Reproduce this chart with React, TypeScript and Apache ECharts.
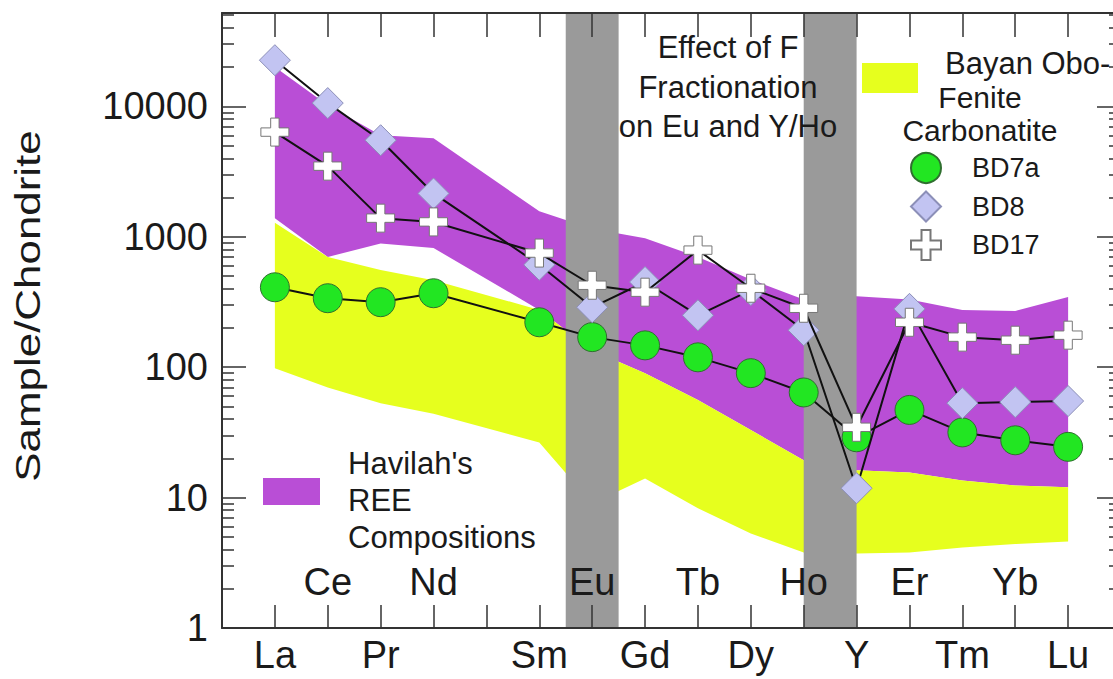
import React, { useEffect, useRef } from "react";
import * as echarts from "echarts";

// ---------- data ----------
const ELEMENTS = ["La", "Ce", "Pr", "Nd", "Pm", "Sm", "Eu", "Gd", "Tb", "Dy", "Ho", "Y", "Er", "Tm", "Yb", "Lu"];
const BOTTOM_LABEL_IDX = [0, 2, 5, 7, 9, 11, 13, 15];
const INNER_LABEL_IDX = [1, 3, 6, 8, 10, 12, 14];
const TICK_IDX = ELEMENTS.map((_, i) => i);

const BD7A = [410, 338, 315, 369, null, 221, 170, 147, 119, 90, 64, 29, 47, 31.6, 27.5, 24.5];
const BD8 = [22600, 10600, 5500, 2150, null, 610, 288, 450, 250, 390, 192, 11.8, 280, 53, 54, 55];
const BD17 = [6350, 3480, 1390, 1300, null, 750, 425, 376, 790, 403, 283, 34.6, 221, 170, 161, 176];

const HAVILAH_UPPER = [20000, 10200, 6000, 5700, null, 1570, 1150, 975, 700, 470, 330, 350, 330, 275, 270, 345];
const HAVILAH_LOWER = [1390, 700, 890, 820, null, 275, 135, 90, 56, 33, 19.3, 16.2, 15.6, 13.5, 12.4, 12];
const BAYAN_UPPER = [1280, 700, 555, 465, null, 275, 135, 90, 56, 33, 19.3, 16.2, 15.6, 13.5, 12.4, 12];
const BAYAN_LOWER = [98, 70, 53, 44, null, 26.5, 9, 14, 8.3, 5.3, 3.8, 3.73, 3.8, 4.15, 4.4, 4.6];

const GRAY_BANDS = [[5.5, 6.5], [10, 11]];

const Y_MIN = 1;
const Y_MAX = 52000;
const X_MIN = -1;
const X_MAX = 16;

// ---------- style ----------
const FONT = "'Liberation Sans', Arial, Helvetica, sans-serif";
const TEXT = "#1a1a1a";
const AXIS = "#333333";
const PURPLE = "#B94ED6";
const YELLOW = "#E6FF1E";
const GRAY = "#9a9a9a";
const CROSS = "path://M35,0h30v35h35v30h-35v35h-30v-35h-35v-30h35z";

const Y_LOG_MAX = Math.log10(Y_MAX);
const MINOR_LOG: number[] = [];
for (let d = 0; d <= 4; d++) {
  for (let k = 2; k <= 9; k++) {
    const v = k * Math.pow(10, d);
    if (v <= Y_MAX) MINOR_LOG.push(Math.log10(v));
  }
}

function seriesPoints(values: (number | null)[]) {
  return values
    .map((v, i) => (v == null ? null : [i, v]))
    .filter((p) => p !== null) as number[][];
}

function bandPoints(lower: (number | null)[], upper: (number | null)[]) {
  return lower
    .map((lo, i) => (lo == null || upper[i] == null ? null : [i, lo, upper[i] as number]))
    .filter((p) => p !== null) as number[][];
}

function bandSeries(name: string, lower: (number | null)[], upper: (number | null)[], color: string, z: number) {
  const data = bandPoints(lower, upper);
  return {
    type: "custom",
    name,
    z,
    silent: true,
    xAxisIndex: 0,
    yAxisIndex: 0,
    data,
    encode: { x: 0, y: [1, 2] },
    renderItem: (params: any, api: any) => {
      if (params.dataIndex !== 0) return null;
      const top: number[][] = [];
      const bottom: number[][] = [];
      for (let k = 0; k < data.length; k++) {
        const x = api.value(0, k);
        top.push(api.coord([x, api.value(2, k)]));
        bottom.push(api.coord([x, api.value(1, k)]));
      }
      return {
        type: "polygon",
        shape: { points: top.concat(bottom.reverse()) },
        style: { fill: color },
      };
    },
  };
}

const isPow10 = (v: number) => Math.abs(Math.log10(v) - Math.round(Math.log10(v))) < 1e-6;

const textStyle = (text: string, extra: any = {}) => ({
  text,
  fontSize: 31,
  fontFamily: FONT,
  fill: TEXT,
  align: "left",
  verticalAlign: "middle",
  ...extra,
});

export default function App() {
  const ref = useRef<HTMLDivElement>(null);

  useEffect(() => {
    if (!ref.current) return;
    const chart = echarts.init(ref.current, undefined, { renderer: "svg" });

    const xBase = {
      type: "value",
      min: X_MIN,
      max: X_MAX,
      gridIndex: 0,
      splitLine: { show: false },
      z: 5,
    };
    const yLogBase = {
      type: "log",
      min: Y_MIN,
      max: Y_MAX,
      logBase: 10,
      gridIndex: 0,
      splitLine: { show: false },
      z: 5,
    };
    const yHelperBase = {
      type: "value",
      min: 0,
      max: Y_LOG_MAX,
      gridIndex: 0,
      splitLine: { show: false },
      axisLine: { show: false, onZero: false },
      axisLabel: { show: false },
      z: 5,
    };

    const option: any = {
      animation: false,
      backgroundColor: "#ffffff",
      textStyle: { fontFamily: FONT },
      grid: { left: 222, top: 13, width: 899, height: 615, show: false, outerBoundsMode: "none", containLabel: false },
      xAxis: [
        {
          ...xBase,
          position: "bottom",
          axisLine: { show: true, onZero: false, lineStyle: { color: AXIS, width: 2 } },
          axisTick: { show: true, inside: true, length: 23, customValues: TICK_IDX, lineStyle: { color: AXIS, width: 1.5 } },
          axisLabel: {
            customValues: BOTTOM_LABEL_IDX,
            formatter: (v: number) => ELEMENTS[Math.round(v)],
            fontSize: 38,
            color: TEXT,
            fontFamily: FONT,
            margin: 8,
          },
        },
        {
          ...xBase,
          position: "bottom",
          axisLine: { show: false, onZero: false },
          axisTick: { show: false },
          axisLabel: {
            inside: true,
            customValues: INNER_LABEL_IDX,
            formatter: (v: number) => ELEMENTS[Math.round(v)],
            fontSize: 38,
            color: TEXT,
            fontFamily: FONT,
            margin: 27,
          },
        },
        {
          ...xBase,
          position: "top",
          axisLine: { show: true, onZero: false, lineStyle: { color: AXIS, width: 2 } },
          axisTick: { show: true, inside: true, length: 24, customValues: TICK_IDX, lineStyle: { color: AXIS, width: 1.5 } },
          axisLabel: { show: false },
        },
      ],
      yAxis: [
        {
          ...yLogBase,
          position: "left",
          axisLine: { show: true, onZero: false, lineStyle: { color: AXIS, width: 2 } },
          axisTick: { show: true, inside: true, length: 24, lineStyle: { color: AXIS, width: 1.5 } },
          axisLabel: {
            formatter: (v: number) => (isPow10(v) ? String(Math.round(v)) : ""),
            fontSize: 38,
            color: TEXT,
            fontFamily: FONT,
            margin: 14,
          },
        },
        {
          ...yHelperBase,
          position: "left",
          axisTick: { show: true, inside: true, length: 12, customValues: MINOR_LOG, lineStyle: { color: AXIS, width: 1.5 } },
        },
        {
          ...yLogBase,
          position: "right",
          axisLine: { show: true, onZero: false, lineStyle: { color: AXIS, width: 2 } },
          axisTick: { show: true, inside: true, length: 24, lineStyle: { color: AXIS, width: 1.5 } },
          axisLabel: { show: false },
        },
        {
          ...yHelperBase,
          position: "right",
          axisTick: { show: true, inside: true, length: 12, customValues: MINOR_LOG, lineStyle: { color: AXIS, width: 1.5 } },
        },
      ],
      legend: {
        orient: "vertical",
        left: 905,
        top: 147,
        itemWidth: 30,
        itemHeight: 30,
        itemGap: 6.5,
        selectedMode: false,
        textStyle: { fontSize: 27, color: TEXT, fontFamily: FONT, padding: [0, 0, 0, 26] },
        data: [
          { name: "BD7a", icon: "circle" },
          { name: "BD8", icon: "diamond" },
          { name: "BD17", icon: CROSS },
        ],
      },
      graphic: [
        {
          type: "text",
          x: 28,
          y: 306,
          rotation: Math.PI / 2,
          scaleX: 1.22,
          z: 100,
          style: textStyle("Sample/Chondrite", { fontSize: 36, align: "center" }),
        },
        {
          type: "text",
          x: 728,
          y: 28,
          z: 100,
          style: textStyle("Effect of F\nFractionation\non Eu and Y/Ho", {
            lineHeight: 39.5,
            align: "center",
            verticalAlign: "top",
          }),
        },
        { type: "rect", z: 100, shape: { x: 862, y: 63, width: 56, height: 30 }, style: { fill: YELLOW } },
        { type: "text", z: 100, x: 945, y: 63, style: textStyle("Bayan Obo-") },
        {
          type: "text",
          z: 100,
          x: 980,
          y: 81,
          style: textStyle("Fenite\nCarbonatite", { fontSize: 30, align: "center", verticalAlign: "top", lineHeight: 33 }),
        },
        { type: "rect", z: 100, shape: { x: 263, y: 478, width: 57, height: 27 }, style: { fill: PURPLE } },
        {
          type: "text",
          z: 100,
          x: 348,
          y: 444.5,
          style: textStyle("Havilah's\nREE\nCompositions", { verticalAlign: "top", lineHeight: 37 }),
        },
      ],
      series: [
        bandSeries("Havilah's REE Compositions", HAVILAH_LOWER, HAVILAH_UPPER, PURPLE, 1),
        bandSeries("Bayan Obo-Fenite Carbonatite", BAYAN_LOWER, BAYAN_UPPER, YELLOW, 2),
        {
          type: "custom",
          name: "F fractionation",
          z: 3,
          silent: true,
          xAxisIndex: 0,
          yAxisIndex: 0,
          data: GRAY_BANDS,
          encode: { x: [0, 1] },
          renderItem: (params: any, api: any) => {
            const x0 = api.coord([api.value(0), Y_MIN])[0];
            const x1 = api.coord([api.value(1), Y_MIN])[0];
            const cs = params.coordSys;
            return {
              type: "rect",
              shape: { x: x0, y: cs.y, width: x1 - x0, height: cs.height },
              style: { fill: GRAY },
            };
          },
        },
        {
          type: "line",
          name: "BD7a",
          z: 10,
          xAxisIndex: 0,
          yAxisIndex: 0,
          data: seriesPoints(BD7A),
          symbol: "circle",
          symbolSize: 29,
          showAllSymbol: true,
          lineStyle: { color: "#111111", width: 2 },
          itemStyle: { color: "#22E622", borderColor: "#2f6f2f", borderWidth: 1 },
        },
        {
          type: "line",
          name: "BD8",
          z: 11,
          xAxisIndex: 0,
          yAxisIndex: 0,
          data: seriesPoints(BD8),
          symbol: "diamond",
          symbolSize: 31,
          showAllSymbol: true,
          lineStyle: { color: "#111111", width: 2 },
          itemStyle: { color: "#C2C4F2", borderColor: "#8c8fb8", borderWidth: 1 },
        },
        {
          type: "line",
          name: "BD17",
          z: 12,
          xAxisIndex: 0,
          yAxisIndex: 0,
          data: seriesPoints(BD17),
          symbol: CROSS,
          symbolSize: 28,
          showAllSymbol: true,
          lineStyle: { color: "#111111", width: 2 },
          itemStyle: { color: "#ffffff", borderColor: "#777777", borderWidth: 1 },
        },
      ],
    };

    chart.setOption(option);
    return () => chart.dispose();
  }, []);

  return (
    <div
      ref={ref}
      style={{ position: "fixed", left: 0, top: 0, width: 1113, height: 679, background: "#fff" }}
    />
  );
}
